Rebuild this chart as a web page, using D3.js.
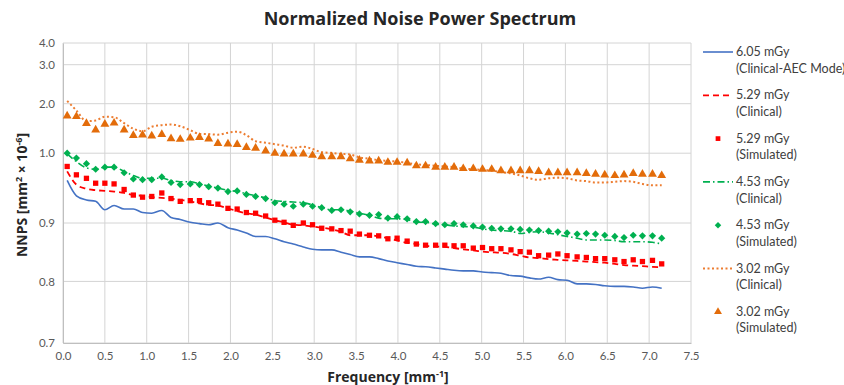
<!DOCTYPE html>
<html>
<head>
<meta charset="utf-8">
<script src="https://cdn.jsdelivr.net/npm/d3@7"></script>
<style>
  body { margin: 0; background: #fff; }
  text { font-family: Lato, "Open Sans", sans-serif; }
</style>
</head>
<body>
<div id="chart"></div>
<script>
// frequency samples [mm^-1]
const freq = [0.05,0.16,0.28,0.39,0.50,0.61,0.73,0.84,0.95,1.06,1.18,1.29,1.40,1.52,1.63,1.74,1.85,1.97,2.08,2.19,
  2.30,2.42,2.53,2.64,2.75,2.87,2.98,3.09,3.21,3.32,3.43,3.54,3.66,3.77,3.88,3.99,4.11,4.22,4.33,4.45,
  4.56,4.67,4.78,4.90,5.01,5.12,5.23,5.35,5.46,5.57,5.68,5.80,5.91,6.02,6.14,6.25,6.36,6.47,6.59,6.70,
  6.81,6.92,7.04,7.15];

const clinicalAec605 = [0.961,0.939,0.933,0.931,0.919,0.925,0.920,0.920,0.915,0.914,0.918,0.908,0.905,0.901,0.899,0.897,0.900,0.892,0.888,0.883,
  0.877,0.877,0.873,0.868,0.864,0.859,0.855,0.854,0.854,0.850,0.846,0.842,0.842,0.839,0.835,0.832,0.829,0.826,0.825,0.823,
  0.821,0.819,0.818,0.818,0.816,0.815,0.814,0.810,0.809,0.806,0.804,0.807,0.803,0.802,0.796,0.796,0.795,0.793,0.792,0.792,
  0.791,0.789,0.791,0.789];

const clinical529 = [0.974,0.955,0.949,0.947,0.946,0.945,0.943,0.940,0.939,0.937,0.936,0.935,0.933,0.931,0.928,0.926,0.925,0.921,0.917,0.914,
  0.912,0.908,0.904,0.901,0.897,0.896,0.894,0.892,0.889,0.885,0.879,0.879,0.879,0.877,0.874,0.870,0.866,0.864,0.861,0.860,
  0.859,0.857,0.855,0.853,0.851,0.850,0.849,0.847,0.844,0.841,0.840,0.838,0.837,0.836,0.835,0.834,0.833,0.832,0.830,0.828,
  0.827,0.826,0.825,0.824];

const simulated529 = [0.981,0.969,0.964,0.957,0.957,0.956,0.948,0.940,0.937,0.938,0.943,0.935,0.931,0.932,0.932,0.929,0.927,0.921,0.920,0.915,
  0.914,0.910,0.904,0.901,0.896,0.900,0.897,0.891,0.890,0.887,0.886,0.881,0.879,0.878,0.873,0.874,0.869,0.864,0.862,0.862,
  0.862,0.861,0.861,0.857,0.858,0.856,0.856,0.854,0.851,0.850,0.844,0.845,0.847,0.844,0.842,0.841,0.839,0.839,0.837,0.834,
  0.837,0.834,0.836,0.830];

const clinical453 = [0.999,0.988,0.979,0.977,0.980,0.980,0.974,0.968,0.964,0.964,0.964,0.961,0.959,0.959,0.956,0.953,0.950,0.947,0.945,0.942,
  0.939,0.936,0.932,0.931,0.930,0.929,0.926,0.922,0.919,0.919,0.917,0.914,0.911,0.907,0.906,0.906,0.905,0.901,0.901,0.898,
  0.897,0.895,0.894,0.893,0.890,0.888,0.887,0.886,0.882,0.884,0.885,0.883,0.880,0.877,0.874,0.871,0.871,0.871,0.870,0.868,
  0.868,0.868,0.867,0.864];

const simulated453 = [1.000,0.993,0.985,0.977,0.980,0.980,0.972,0.963,0.962,0.962,0.966,0.958,0.955,0.956,0.955,0.952,0.950,0.945,0.946,0.941,
  0.938,0.935,0.929,0.927,0.924,0.927,0.924,0.922,0.918,0.919,0.916,0.913,0.911,0.912,0.907,0.909,0.906,0.902,0.902,0.899,
  0.897,0.899,0.897,0.895,0.893,0.891,0.890,0.890,0.889,0.888,0.887,0.886,0.885,0.883,0.881,0.882,0.881,0.879,0.877,0.875,
  0.879,0.878,0.878,0.874];

const clinical302 = [2.071,1.863,1.646,1.661,1.737,1.727,1.606,1.495,1.444,1.535,1.566,1.580,1.545,1.465,1.390,1.386,1.374,1.414,1.434,1.364,
  1.242,1.212,1.182,1.152,1.111,1.131,1.085,1.020,1.006,0.999,0.998,0.994,0.992,0.990,0.989,0.988,0.986,0.984,0.983,0.982,
  0.981,0.980,0.978,0.977,0.976,0.975,0.973,0.971,0.968,0.964,0.962,0.964,0.965,0.964,0.961,0.960,0.958,0.958,0.959,0.960,
  0.959,0.956,0.954,0.954];

const simulated302 = [1.752,1.741,1.600,1.469,1.586,1.610,1.469,1.358,1.370,1.349,1.380,1.293,1.281,1.307,1.319,1.289,1.198,1.188,1.178,1.117,
  1.101,1.046,1.000,0.999,0.999,0.999,0.997,0.995,0.995,0.995,0.992,0.990,0.989,0.989,0.987,0.987,0.986,0.982,0.982,0.980,
  0.980,0.980,0.978,0.978,0.977,0.977,0.975,0.975,0.975,0.975,0.974,0.972,0.972,0.972,0.972,0.971,0.970,0.969,0.968,0.969,
  0.971,0.970,0.970,0.968];

const xTicks = [0.0,0.5,1.0,1.5,2.0,2.5,3.0,3.5,4.0,4.5,5.0,5.5,6.0,6.5,7.0,7.5];
const yTicks = [0.7,0.8,0.9,1.0,2.0,3.0,4.0];

const seriesNames = ["6.05 mGy|(Clinical-AEC Mode)", "5.29 mGy|(Clinical)", "5.29 mGy|(Simulated)",
  "4.53 mGy|(Clinical)", "4.53 mGy|(Simulated)", "3.02 mGy|(Clinical)", "3.02 mGy|(Simulated)"];
const seriesValues = [clinicalAec605, clinical529, simulated529, clinical453, simulated453, clinical302, simulated302];

// drawing styles, one per series (diamond = square turned 45deg)
const styles = [
  { kind: "line", color: "#4472C4", width: 1.6, dash: null },
  { kind: "line", color: "#FF0000", width: 1.8, dash: "6,4" },
  { kind: "marker", color: "#FF0000", symbol: d3.symbolSquare, size: 28, rotate: 0 },
  { kind: "line", color: "#00B050", width: 1.6, dash: "7,3,1.5,3" },
  { kind: "marker", color: "#00B050", symbol: d3.symbolSquare, size: 26, rotate: 45 },
  { kind: "line", color: "#ED7D31", width: 2, dash: "2,2.5" },
  { kind: "marker", color: "#E36C0A", symbol: d3.symbolTriangle, size: 34, rotate: 0 }
];

const width = 844, height = 385;
const margin = { top: 43, right: 153, bottom: 42, left: 63 };
const plotW = width - margin.left - margin.right;
const plotH = height - margin.top - margin.bottom;

const svg = d3.select("#chart").append("svg")
  .attr("width", width)
  .attr("height", height);

const x = d3.scaleLinear()
  .domain([0, 7.5])
  .range([margin.left, margin.left + plotW]);

// the original axis uses uneven spacing between its labels
const yFrac = [0, 0.2053, 0.4, 0.6327, 0.7977, 0.9277, 1];
const y = d3.scaleLinear()
  .domain(yTicks)
  .range(yFrac.map(f => margin.top + plotH - f * plotH));

// gridlines
svg.append("g")
  .selectAll("line")
  .data(yTicks)
  .join("line")
  .attr("x1", margin.left).attr("x2", margin.left + plotW)
  .attr("y1", d => y(d)).attr("y2", d => y(d))
  .attr("stroke", "#d4d4d4").attr("stroke-width", 1);

svg.append("g")
  .selectAll("line")
  .data(xTicks)
  .join("line")
  .attr("x1", d => x(d)).attr("x2", d => x(d))
  .attr("y1", margin.top).attr("y2", margin.top + plotH)
  .attr("stroke", "#d4d4d4").attr("stroke-width", 1);

// axes
const xAxis = svg.append("g")
  .attr("transform", `translate(0,${margin.top + plotH})`)
  .call(d3.axisBottom(x).tickValues(xTicks).tickFormat(d3.format(".1f")).tickSize(0).tickPadding(9));
xAxis.select(".domain").attr("stroke", "#bfbfbf");
xAxis.selectAll("text").attr("fill", "#595959").style("font-size", "11.5px");

const yAxis = svg.append("g")
  .attr("transform", `translate(${margin.left},0)`)
  .call(d3.axisLeft(y).tickValues(yTicks).tickFormat(d3.format(".1f")).tickSize(0).tickPadding(8));
yAxis.select(".domain").attr("stroke", "#bfbfbf");
yAxis.selectAll("text").attr("fill", "#595959").style("font-size", "11.5px");

// series
const line = d3.line()
  .x((d, i) => x(freq[i]))
  .y(d => y(d))
  .curve(d3.curveMonotoneX);

seriesValues.forEach((vals, k) => {
  const s = styles[k];
  if (s.kind === "line") {
    svg.append("path")
      .datum(vals)
      .attr("d", line)
      .attr("fill", "none")
      .attr("stroke", s.color)
      .attr("stroke-width", s.width)
      .attr("stroke-dasharray", s.dash);
  } else {
    svg.append("g")
      .selectAll("path")
      .data(vals)
      .join("path")
      .attr("transform", (d, i) => `translate(${x(freq[i])},${y(d)}) rotate(${s.rotate})`)
      .attr("d", d3.symbol().type(s.symbol).size(s.size))
      .attr("fill", s.color);
  }
});

// title and axis titles
svg.append("text")
  .attr("x", 420).attr("y", 25)
  .attr("text-anchor", "middle")
  .attr("font-weight", "bold")
  .style("font-family", "'Open Sans', sans-serif")
  .style("font-size", "18px")
  .attr("fill", "#262626")
  .text("Normalized Noise Power Spectrum");

const xt = svg.append("text")
  .attr("x", margin.left + plotW / 2 + 11).attr("y", 382)
  .attr("text-anchor", "middle")
  .attr("font-weight", "bold")
  .style("font-family", "'Open Sans', sans-serif")
  .style("font-size", "14px")
  .attr("fill", "#262626");
xt.append("tspan").text("Frequency [mm");
xt.append("tspan").attr("dy", -5).style("font-size", "9px").text("-1");
xt.append("tspan").attr("dy", 5).text("]");

const yt = svg.append("text")
  .attr("transform", `translate(27,${margin.top + plotH / 2 + 2}) rotate(-90)`)
  .attr("text-anchor", "middle")
  .attr("font-weight", "bold")
  .style("font-family", "'Open Sans', sans-serif")
  .style("font-size", "14px")
  .attr("fill", "#262626");
yt.append("tspan").text("NNPS [mm");
yt.append("tspan").attr("dy", -5).style("font-size", "9px").text("2");
yt.append("tspan").attr("dy", 5).text(" × 10");
yt.append("tspan").attr("dy", -5).style("font-size", "9px").text("-6");
yt.append("tspan").attr("dy", 5).text("]");

// legend
const legend = svg.selectAll(".legend")
  .data(seriesNames)
  .join("g")
  .attr("class", "legend")
  .attr("transform", (d, i) => `translate(703,${56 + i * 43.3})`);

legend.each(function (d, i) {
  const g = d3.select(this);
  const s = styles[i];
  if (s.kind === "line") {
    g.append("line")
      .attr("x1", 0).attr("x2", 30).attr("y1", -4).attr("y2", -4)
      .attr("stroke", s.color)
      .attr("stroke-width", s.width)
      .attr("stroke-dasharray", s.dash);
  } else {
    g.append("path")
      .attr("transform", `translate(15,-4) rotate(${s.rotate})`)
      .attr("d", d3.symbol().type(s.symbol).size(s.size * 0.8))
      .attr("fill", s.color);
  }
  const parts = d.split("|");
  const t = g.append("text")
    .attr("x", 33).attr("y", 0)
    .attr("fill", "#404040")
    .style("font-size", "12.5px");
  t.append("tspan").attr("x", 33).attr("dy", 0).text(parts[0]);
  t.append("tspan").attr("x", 33).attr("dy", 16.7).text(parts[1]);
});
</script>
</body>
</html>
